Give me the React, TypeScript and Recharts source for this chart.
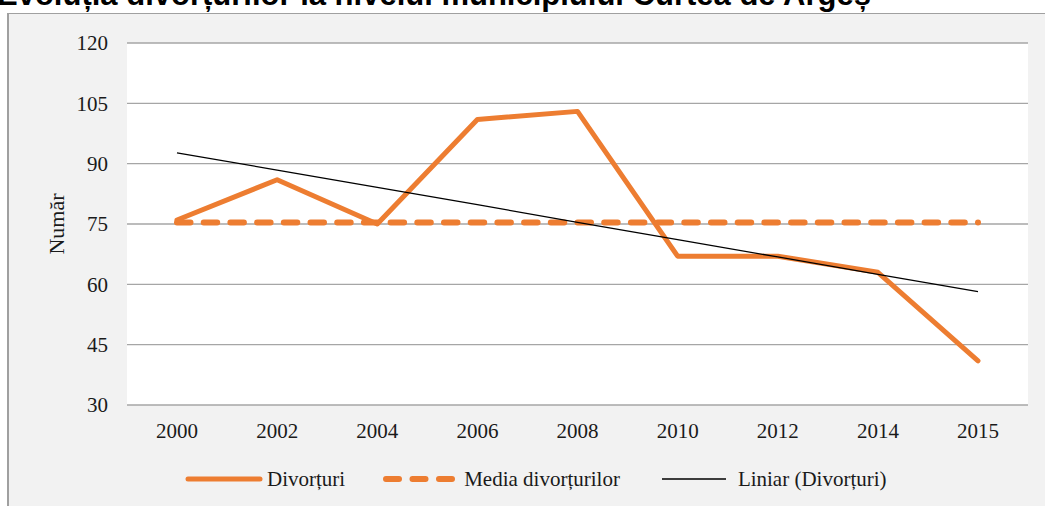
import { LineChart, Line, XAxis, YAxis, CartesianGrid } from 'recharts';

const years = ['2000', '2002', '2004', '2006', '2008', '2010', '2012', '2014', '2015'];
const divorturi = [76, 86, 75, 101, 103, 67, 67, 63, 41];
const mediaDivorturilor = [75.4, 75.4, 75.4, 75.4, 75.4, 75.4, 75.4, 75.4, 75.4];
const liniarDivorturi = [92.7, 88.4, 84.1, 79.8, 75.4, 71.1, 66.8, 62.5, 58.2];
const yTicks = [30, 45, 60, 75, 90, 105, 120];

const data = years.map((year, i) => ({
  year,
  divorturi: divorturi[i],
  media: mediaDivorturilor[i],
  liniar: liniarDivorturi[i],
}));

const ORANGE = '#ed7d31';
const GRID = '#a6a6a6';
const SERIF = '"Liberation Serif", "Times New Roman", serif';

function YLabel(props: any) {
  const { viewBox } = props;
  const x = viewBox.x + 47;
  const y = viewBox.y + viewBox.height / 2;
  return (
    <text
      x={x}
      y={y}
      transform={`rotate(-90, ${x}, ${y})`}
      textAnchor="middle"
      dominantBaseline="central"
      fill="#1a1a1a"
      style={{ fontFamily: SERIF, fontSize: 22 }}
    >
      Număr
    </text>
  );
}

function LegendIcon({ width, kind }: { width: number; kind: string }) {
  return (
    <svg width={width + 6} height={12} style={{ display: 'block' }}>
      {kind === 'solid' && (
        <line x1={3} y1={6} x2={width + 3} y2={6} stroke={ORANGE} strokeWidth={5} strokeLinecap="round" />
      )}
      {kind === 'dashed' && (
        <line
          x1={3}
          y1={6}
          x2={width + 3}
          y2={6}
          stroke={ORANGE}
          strokeWidth={6}
          strokeLinecap="round"
          strokeDasharray="13 13.5"
        />
      )}
      {kind === 'thin' && <line x1={3} y1={6} x2={width + 3} y2={6} stroke="#000" strokeWidth={1.3} />}
    </svg>
  );
}

function ChartLegend() {
  const items = [
    { label: 'Divorțuri', kind: 'solid', icon: 72, gap: 4, ml: 0 },
    { label: 'Media divorțurilor', kind: 'dashed', icon: 72, gap: 3, ml: 38 },
    { label: 'Liniar (Divorțuri)', kind: 'thin', icon: 64, gap: 9, ml: 39 },
  ];
  return (
    <div
      style={{
        position: 'absolute',
        left: 185,
        top: 467,
        display: 'flex',
        alignItems: 'center',
        fontFamily: SERIF,
        fontSize: 21,
        color: '#1a1a1a',
        lineHeight: '24px',
      }}
    >
      {items.map((it) => (
        <div key={it.label} style={{ display: 'flex', alignItems: 'center', marginLeft: it.ml }}>
          <LegendIcon width={it.icon} kind={it.kind} />
          <span style={{ marginLeft: it.gap, whiteSpace: 'nowrap' }}>{it.label}</span>
        </div>
      ))}
    </div>
  );
}

export default function App() {
  return (
    <div
      style={{
        position: 'absolute',
        left: 0,
        top: 0,
        width: 1045,
        height: 506,
        overflow: 'hidden',
        background: '#fff',
      }}
    >
      <div
        style={{
          position: 'absolute',
          left: 7,
          top: 13,
          width: 1040,
          height: 500,
          background: '#f2f2f2',
          borderLeft: '2px solid #a0a0a0',
          borderTop: '1px solid #a0a0a0',
        }}
      >
        <LineChart
          width={1036}
          height={492}
          data={data}
          margin={{ top: 29, right: 17, left: 0, bottom: 61 }}
        >
          <CartesianGrid vertical={false} stroke={GRID} strokeWidth={1.3} fill="#ffffff" />
          <XAxis
            dataKey="year"
            axisLine={false}
            tickLine={false}
            tickSize={0}
            tickMargin={18}
            height={40}
            padding={{ left: 50, right: 50 }}
            tick={{ fill: '#1a1a1a', fontSize: 21, fontFamily: SERIF }}
          />
          <YAxis
            domain={[30, 120]}
            ticks={yTicks}
            axisLine={false}
            tickLine={false}
            tickSize={0}
            tickMargin={19}
            width={118}
            tick={{ fill: '#1a1a1a', fontSize: 21, fontFamily: SERIF }}
            label={{ content: YLabel }}
          />
          <Line
            type="linear"
            dataKey="divorturi"
            stroke={ORANGE}
            strokeWidth={5}
            strokeLinecap="round"
            strokeLinejoin="round"
            dot={false}
            activeDot={false}
            isAnimationActive={false}
          />
          <Line
            type="linear"
            dataKey="media"
            stroke={ORANGE}
            strokeWidth={6}
            strokeLinecap="round"
            strokeDasharray="13.5 13.2"
            dot={false}
            activeDot={false}
            isAnimationActive={false}
          />
          <Line
            type="linear"
            dataKey="liniar"
            stroke="#000000"
            strokeWidth={1.3}
            dot={false}
            activeDot={false}
            isAnimationActive={false}
          />
        </LineChart>
      </div>
      <div
        style={{
          position: 'absolute',
          left: -3,
          top: -21,
          fontFamily: '"Liberation Sans", Arial, sans-serif',
          fontWeight: 'bold',
          fontSize: 31,
          lineHeight: '31px',
          color: '#000',
          whiteSpace: 'nowrap',
        }}
      >
        Evoluția divorțurilor la nivelul municipiului Curtea de Argeș
      </div>
      <ChartLegend />
    </div>
  );
}
